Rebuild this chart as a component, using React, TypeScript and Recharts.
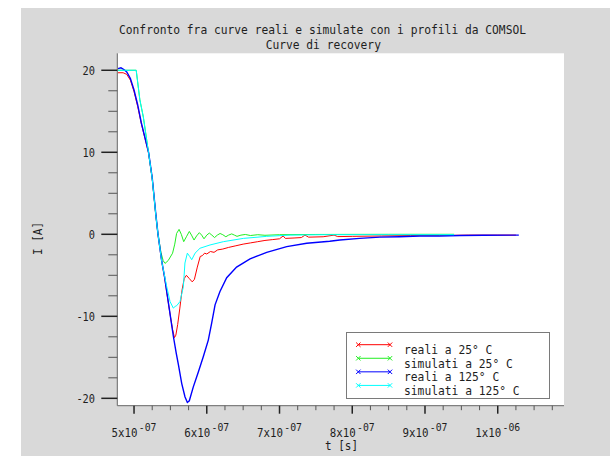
import React from 'react';
import { LineChart, Line, XAxis, YAxis, CartesianGrid, Legend } from 'recharts';

const FONT = '"DejaVu Sans Mono", "Liberation Mono", monospace';
const TEXT = '#1e1e1e';

// ---- data (t in seconds, I in ampere) ----
const redT = [4.78e-7, 4.85e-7, 4.9e-7, 4.95e-7, 5.0e-7, 5.05e-7, 5.1e-7, 5.15e-7, 5.2e-7, 5.25e-7, 5.3e-7, 5.33e-7, 5.38e-7, 5.42e-7, 5.46e-7, 5.5e-7, 5.53e-7, 5.556e-7, 5.575e-7, 5.6e-7, 5.63e-7, 5.66e-7, 5.69e-7, 5.72e-7, 5.76e-7, 5.8e-7, 5.83e-7, 5.87e-7, 5.91e-7, 5.94e-7, 5.97e-7, 6.0e-7, 6.05e-7, 6.1e-7, 6.15e-7, 6.22e-7, 6.3e-7, 6.4e-7, 6.5e-7, 6.6e-7, 6.7e-7, 6.8e-7, 6.9e-7, 7.0e-7, 7.05e-7, 7.08e-7, 7.2e-7, 7.3e-7, 7.35e-7, 7.4e-7, 7.6e-7, 7.75e-7, 7.8e-7, 8.0e-7, 8.4e-7, 8.8e-7, 9.2e-7, 9.6e-7, 1.0e-6, 1.025e-6];
const redI = [19.7, 19.7, 19.5, 18.8, 17.4, 15.6, 13.5, 11.7, 9.9, 6.8, 2.3, -0.1, -3.3, -5.3, -7.7, -10.0, -11.6, -12.6, -12.3, -11.0, -9.0, -6.8, -5.4, -5.0, -5.4, -5.8, -5.5, -4.0, -2.7, -2.6, -2.3, -2.4, -2.1, -2.2, -1.9, -1.8, -1.6, -1.4, -1.2, -1.05, -0.9, -0.75, -0.65, -0.55, -0.2, -0.5, -0.45, -0.4, -0.1, -0.35, -0.3, -0.1, -0.28, -0.25, -0.2, -0.15, -0.15, -0.1, -0.1, -0.1];

const greenT = [4.78e-7, 5.03e-7, 5.08e-7, 5.128e-7, 5.199e-7, 5.25e-7, 5.3e-7, 5.33e-7, 5.37e-7, 5.4e-7, 5.426e-7, 5.47e-7, 5.53e-7, 5.56e-7, 5.585e-7, 5.619e-7, 5.65e-7, 5.683e-7, 5.72e-7, 5.76e-7, 5.79e-7, 5.825e-7, 5.86e-7, 5.898e-7, 5.93e-7, 5.962e-7, 6.0e-7, 6.035e-7, 6.07e-7, 6.107e-7, 6.145e-7, 6.183e-7, 6.22e-7, 6.262e-7, 6.3e-7, 6.343e-7, 6.38e-7, 6.416e-7, 6.47e-7, 6.53e-7, 6.6e-7, 6.7e-7, 6.8e-7, 7.0e-7, 7.5e-7, 8.5e-7, 9.4e-7];
const greenI = [20.0, 20.0, 16.4, 14.3, 10.0, 6.8, 2.3, 0.0, -2.2, -3.2, -3.55, -3.2, -2.3, -1.2, 0.1, 0.6, 0.0, -0.9, -0.3, 0.35, -0.1, -0.7, -0.2, 0.2, -0.1, -0.55, -0.1, 0.15, -0.1, -0.4, -0.1, 0.1, -0.05, -0.3, -0.1, 0.05, -0.1, -0.25, -0.1, -0.02, -0.15, -0.05, -0.12, -0.05, -0.02, 0.0, 0.0];

const blueT = [4.78e-7, 4.82e-7, 4.86e-7, 4.9e-7, 4.95e-7, 5.0e-7, 5.05e-7, 5.1e-7, 5.15e-7, 5.2e-7, 5.25e-7, 5.3e-7, 5.33e-7, 5.38e-7, 5.42e-7, 5.46e-7, 5.5e-7, 5.54e-7, 5.58e-7, 5.61e-7, 5.656e-7, 5.7e-7, 5.733e-7, 5.76e-7, 5.815e-7, 5.884e-7, 5.953e-7, 6.021e-7, 6.068e-7, 6.114e-7, 6.18e-7, 6.274e-7, 6.41e-7, 6.595e-7, 6.824e-7, 7.099e-7, 7.374e-7, 7.69e-7, 7.83e-7, 8.1e-7, 8.38e-7, 8.65e-7, 8.93e-7, 9.2e-7, 9.48e-7, 9.8e-7, 1.029e-6];
const blueI = [20.2, 20.3, 20.1, 19.8, 19.0, 17.6, 15.8, 13.6, 11.8, 10.0, 6.9, 2.4, 0.0, -3.2, -5.2, -7.6, -10.0, -12.4, -14.5, -15.9, -18.2, -19.8, -20.5, -20.3, -18.6, -16.8, -14.9, -12.9, -10.8, -8.6, -7.0, -5.3, -4.0, -3.0, -2.2, -1.5, -1.1, -0.85, -0.7, -0.5, -0.35, -0.3, -0.2, -0.2, -0.15, -0.12, -0.1];

const cyanT = [4.78e-7, 5.03e-7, 5.08e-7, 5.128e-7, 5.199e-7, 5.25e-7, 5.3e-7, 5.33e-7, 5.38e-7, 5.45e-7, 5.495e-7, 5.54e-7, 5.565e-7, 5.587e-7, 5.632e-7, 5.678e-7, 5.7e-7, 5.733e-7, 5.765e-7, 5.793e-7, 5.839e-7, 5.907e-7, 6.045e-7, 6.228e-7, 6.503e-7, 6.824e-7, 7.145e-7, 7.6e-7, 8.5e-7, 9.4e-7];
const cyanI = [20.0, 20.0, 16.4, 14.3, 10.0, 6.8, 2.3, 0.0, -3.3, -6.4, -8.2, -9.0, -8.8, -8.7, -8.2, -6.4, -3.5, -2.3, -2.7, -3.1, -2.3, -1.7, -1.3, -0.9, -0.5, -0.25, -0.1, -0.05, -0.05, -0.05];

// ---- ticks ----
const xTickValues = [5e-7, 6e-7, 7e-7, 8e-7, 9e-7, 1e-6];
const xTickMantissa = ['5x10', '6x10', '7x10', '8x10', '9x10', '1x10'];
const xTickExponent = ['-07', '-07', '-07', '-07', '-07', '-06'];
const yTickValues = [-20, -10, 0, 10, 20];
const yTickLabels = ['-20', '-10', '0', '10', '20'];

const seriesNames = ['reali a 25° C', 'simulati a 25° C', 'reali a 125° C', 'simulati a 125° C'];
const seriesColors = ['#ff0000', '#22ee22', '#0000ff', '#00ffff'];

const X_DOMAIN: [number, number] = [4.77e-7, 1.0911e-6];
const Y_DOMAIN: [number, number] = [-20.9, 22.07];

// minor tick positions (every quarter of a major step)
const xAllTicks: number[] = [];
for (let k = 0; k <= 23; k++) {
  const v = 5e-7 + k * 0.25e-7;
  if (v <= X_DOMAIN[1]) xAllTicks.push(v);
}
const yAllTicks: number[] = [];
for (let k = 0; k <= 16; k++) yAllTicks.push(-20 + k * 2.5);

const toData = (ts: number[], is: number[]) => ts.map((t, i) => ({ t, I: is[i] }));
const seriesData = [toData(redT, redI), toData(greenT, greenI), toData(blueT, blueI), toData(cyanT, cyanI)];
const seriesWidths = [1, 1, 1.4, 1];

const XTick = (props: any) => {
  const { x, y, payload } = props;
  const v = payload.value;
  const idx = xTickValues.findIndex((m) => Math.abs(m - v) < 1e-12);
  const major = idx >= 0;
  return (
    <g>
      <line x1={x} x2={x} y1={y} y2={y + (major ? 8 : 4.5)} stroke={major ? '#222' : '#555'} strokeWidth={major ? 1.5 : 1} />
      {major && (
        <g fill={TEXT} fontFamily={FONT}>
          <text x={x - 22.5} y={y + 31.6} fontSize={12} textLength={26} lengthAdjust="spacingAndGlyphs">
            {xTickMantissa[idx]}
          </text>
          <text x={x + 4.8} y={y + 25} fontSize={11} textLength={17.7} lengthAdjust="spacingAndGlyphs">
            {xTickExponent[idx]}
          </text>
        </g>
      )}
    </g>
  );
};

const YTick = (props: any) => {
  const { x, y, payload } = props;
  const v = payload.value;
  const idx = yTickValues.findIndex((m) => Math.abs(m - v) < 1e-9);
  const major = idx >= 0;
  const label = major ? yTickLabels[idx] : '';
  return (
    <g>
      <line x1={x - (major ? 16 : 9)} x2={x} y1={y} y2={y} stroke={major ? '#222' : '#555'} strokeWidth={major ? 1.5 : 1} />
      {major && (
        <text x={x - 22.3} y={y + 4.5} textAnchor="end" fontSize={12} fill={TEXT} fontFamily={FONT} textLength={label.length * 6.2} lengthAdjust="spacingAndGlyphs">
          {label}
        </text>
      )}
    </g>
  );
};

const LegendBox = () => (
  <svg width={204} height={67} style={{ display: 'block' }}>
    <rect x={0.5} y={0.5} width={203} height={66} fill="#fff" stroke="#7a7a7a" strokeWidth={1} />
    {seriesNames.map((name, i) => {
      const ly = 12.7 + i * 13.57;
      const ty = 22 + i * 13.6;
      const c = seriesColors[i];
      const mk = (cx: number) => (
        <g stroke={c} strokeWidth={1}>
          <line x1={cx - 2.2} y1={ly - 2.2} x2={cx + 2.2} y2={ly + 2.2} />
          <line x1={cx - 2.2} y1={ly + 2.2} x2={cx + 2.2} y2={ly - 2.2} />
        </g>
      );
      return (
        <g key={name}>
          <line x1={12.3} x2={44} y1={ly} y2={ly} stroke={c} strokeWidth={1} />
          {mk(12.3)}
          {mk(44)}
          <text x={58} y={ty} fontSize={12} fill={TEXT} fontFamily={FONT} textLength={name.length * 6.8} lengthAdjust="spacingAndGlyphs">
            {name}
          </text>
        </g>
      );
    })}
  </svg>
);

export default function App() {
  return (
    <div style={{ position: 'absolute', left: 0, top: 0, width: 610, height: 456, background: '#fff', fontFamily: FONT }}>
      <div style={{ position: 'absolute', left: 21, top: 8, width: 589, height: 448, background: '#d9d9d9' }} />
      <div style={{ position: 'absolute', left: 0, top: 0 }}>
        <LineChart width={610} height={456} margin={{ top: 53.3, right: 46, bottom: 10.3, left: 57.3 }}>
          <CartesianGrid fill="#ffffff" horizontal={false} vertical={false} stroke="none" />
          <XAxis
            type="number"
            dataKey="t"
            domain={X_DOMAIN}
            allowDataOverflow
            ticks={xAllTicks}
            interval={0}
            tick={<XTick />}
            tickLine={false}
            tickSize={0}
            tickMargin={0}
            height={40}
            axisLine={{ stroke: '#666', strokeWidth: 1 }}
          />
          <XAxis
            xAxisId="top"
            orientation="top"
            type="number"
            dataKey="t"
            domain={X_DOMAIN}
            allowDataOverflow
            tick={false}
            tickLine={false}
            height={0}
            axisLine={{ stroke: '#666', strokeWidth: 1 }}
          />
          <YAxis
            type="number"
            dataKey="I"
            domain={Y_DOMAIN}
            allowDataOverflow
            ticks={yAllTicks}
            interval={0}
            tick={<YTick />}
            tickLine={false}
            tickSize={0}
            tickMargin={0}
            width={60}
            axisLine={{ stroke: '#666', strokeWidth: 1 }}
          />
          <YAxis
            yAxisId="right"
            orientation="right"
            type="number"
            domain={Y_DOMAIN}
            allowDataOverflow
            tick={false}
            tickLine={false}
            width={0}
            axisLine={{ stroke: '#666', strokeWidth: 1 }}
          />
          <Legend
            layout="horizontal"
            verticalAlign="middle"
            align="center"
            content={() => <LegendBox />}
            wrapperStyle={{ position: 'absolute', left: 346, top: 332.3, width: 204, height: 67, margin: 0, padding: 0 }}
          />
          {seriesData.map((d, i) => (
            <Line
              key={seriesNames[i]}
              name={seriesNames[i]}
              data={d}
              dataKey="I"
              type="linear"
              stroke={seriesColors[i]}
              strokeWidth={seriesWidths[i]}
              dot={false}
              activeDot={false}
              isAnimationActive={false}
            />
          ))}
        </LineChart>
      </div>
      <svg width={610} height={456} style={{ position: 'absolute', left: 0, top: 0, pointerEvents: 'none' }}>
        <g fill={TEXT} fontFamily={FONT} fontSize={12}>
          <text x={322.5} y={34} textAnchor="middle" textLength={407} lengthAdjust="spacingAndGlyphs">
            Confronto fra curve reali e simulate con i profili da COMSOL
          </text>
          <text x={323.3} y={49.3} textAnchor="middle" textLength={115.3} lengthAdjust="spacingAndGlyphs">
            Curve di recovery
          </text>
          <text x={341.5} y={450} textAnchor="middle" textLength={33} lengthAdjust="spacingAndGlyphs">
            t [s]
          </text>
          <text x={42.3} y={238.5} textAnchor="middle" textLength={33} lengthAdjust="spacingAndGlyphs" transform="rotate(-90 42.3 238.5)">
            I [A]
          </text>
        </g>
      </svg>
    </div>
  );
}
